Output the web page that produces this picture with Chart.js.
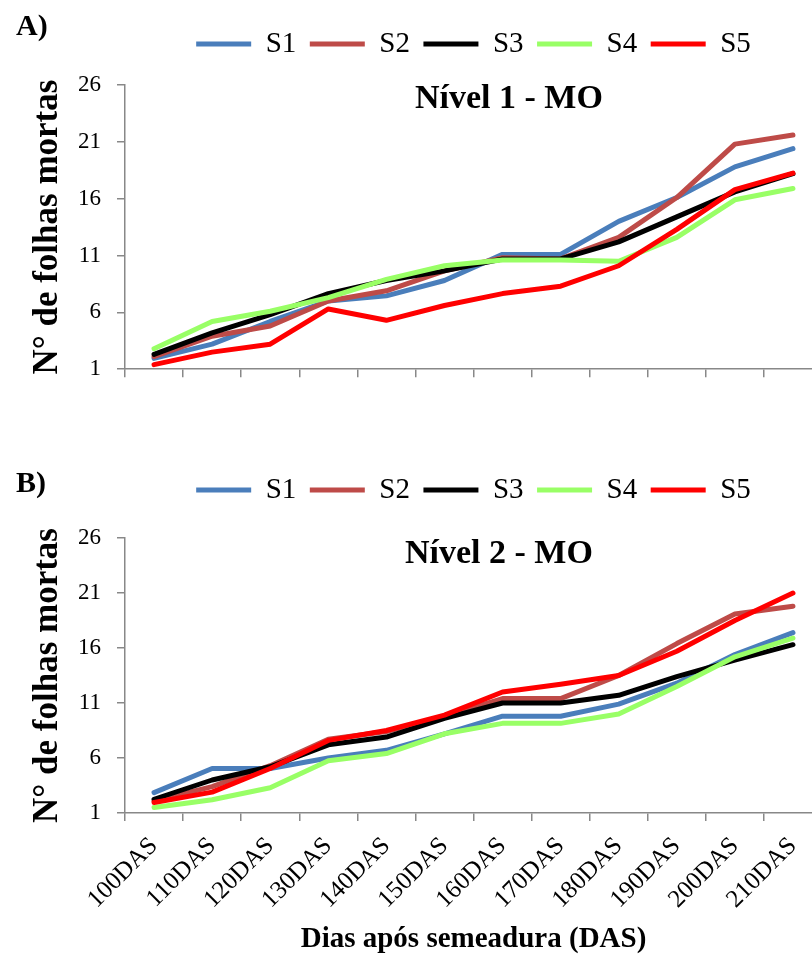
<!DOCTYPE html>
<html lang="pt">
<head>
  <meta charset="UTF-8" />
  <title>Folhas mortas - Nível 1 e 2 MO</title>
  <script src="https://cdn.jsdelivr.net/npm/chart.js"></script>
  <style>
    html, body {
      margin: 0;
      padding: 0;
      width: 812px;
      height: 957px;
      overflow: hidden;
      background: #fff;
      font-family: "Liberation Serif", "Times New Roman", serif;
    }
    .panel {
      position: absolute;
      left: 0;
      width: 822px;
    }
    .tag {
      position: absolute;
      left: 16px;
      font-weight: bold;
      font-size: 30px;
      line-height: 30px;
    }
    .ptitle {
      position: absolute;
      font-weight: bold;
      font-size: 34px;
      line-height: 34px;
      white-space: nowrap;
    }
  </style>
</head>
<body>

<div class="panel" style="top:0;height:399px"><canvas id="chartA"></canvas></div>
<div class="panel" style="top:446px;height:511px"><canvas id="chartB"></canvas></div>

<div class="tag" style="top:10px">A)</div>
<div class="tag" style="top:467px">B)</div>
<div class="ptitle" style="left:415px;top:80px">Nível 1 - MO</div>
<div class="ptitle" style="left:405px;top:535px">Nível 2 - MO</div>

<script>
const labels = ["100DAS", "110DAS", "120DAS", "130DAS", "140DAS", "150DAS",
                "160DAS", "170DAS", "180DAS", "190DAS", "200DAS", "210DAS"];
const seriesNames = ["S1", "S2", "S3", "S4", "S5"];
const seriesColors = ["#4A7EBB", "#BE4B48", "#000000", "#99FF66", "#FF0000"];

// Nível 1 - MO
const s1A = [1.95, 3.2, 5.2, 7.0, 7.45, 8.8, 11.1, 11.1, 14.0, 16.1, 18.8, 20.4];
const s2A = [2.1, 3.9, 4.8, 7.0, 7.9, 9.65, 10.8, 10.7, 12.6, 16.1, 20.8, 21.6];
const s3A = [2.3, 4.2, 5.8, 7.65, 8.8, 9.65, 10.7, 10.7, 12.2, 14.4, 16.6, 18.2];
const s4A = [2.8, 5.2, 6.1, 7.3, 8.9, 10.1, 10.6, 10.6, 10.5, 12.6, 15.9, 16.9];
const s5A = [1.4, 2.5, 3.2, 6.3, 5.3, 6.6, 7.65, 8.3, 10.1, 13.3, 16.8, 18.25];

// Nível 2 - MO
const s1B = [2.85, 5.05, 5.05, 6.0, 6.7, 8.2, 9.8, 9.8, 10.9, 12.8, 15.4, 17.4];
const s2B = [2.1, 3.4, 5.3, 7.7, 8.4, 9.8, 11.4, 11.4, 13.5, 16.4, 19.1, 19.8];
const s3B = [2.25, 4.0, 5.2, 7.2, 7.9, 9.6, 11.0, 11.0, 11.7, 13.4, 14.9, 16.3];
const s4B = [1.5, 2.2, 3.3, 5.75, 6.4, 8.2, 9.15, 9.15, 10.0, 12.5, 15.2, 16.9];
const s5B = [1.95, 2.9, 5.05, 7.6, 8.5, 9.9, 12.0, 12.7, 13.5, 15.7, 18.5, 21.0];

const yMin = 1, yMax = 26, yStep = 5;
const yTitle = "N° de folhas mortas";
const xTitle = "Dias após semeadura (DAS)";

Chart.defaults.font.family = '"Liberation Serif", "Times New Roman", serif';
Chart.defaults.color = "#000";

const axisGray = "#888888";

function buildDatasets(series) {
  return series.map((data, i) => ({
    label: seriesNames[i],
    data: data,
    borderColor: seriesColors[i],
    backgroundColor: seriesColors[i],
    borderWidth: 5,
    borderCapStyle: "round",
    borderJoinStyle: "round",
    pointRadius: 0,
    tension: 0,
    fill: false,
    order: series.length - i   // later series drawn on top, like the original
  }));
}

function makeChart(id, series, spacer, xHeight, showX) {
  const ctx = document.getElementById(id).getContext("2d");
  return new Chart(ctx, {
    type: "line",
    data: { labels: labels, datasets: buildDatasets(series) },
    options: {
      responsive: true,
      maintainAspectRatio: false,
      animation: false,
      layout: { padding: { top: 16, left: 0, right: 0, bottom: 0 } },
      plugins: {
        tooltip: { enabled: false },
        legend: {
          position: "top",
          fullSize: false,
          labels: {
            usePointStyle: true,
            pointStyle: "line",
            pointStyleWidth: 55,
            padding: 13.5,
            color: "#000",
            font: { size: 29 },
            sort: (a, b) => a.datasetIndex - b.datasetIndex
          }
        },
        // empty spacer between legend and plot area
        subtitle: {
          display: true,
          text: "",
          weight: 1,
          font: { size: 1, lineHeight: 1 },
          padding: { top: 0, bottom: spacer - 1 }
        }
      },
      scales: {
        x: {
          offset: true,
          grid: {
            offset: true,
            drawOnChartArea: false,
            drawTicks: true,
            tickLength: 8,
            color: axisGray,
            lineWidth: 1.5
          },
          border: { color: axisGray, width: 1.5 },
          ticks: {
            display: showX,
            autoSkip: false,
            minRotation: 45,
            maxRotation: 45,
            padding: 13,
            font: { size: 25, lineHeight: 0.9 },
            color: "#000"
          },
          title: {
            display: showX,
            text: xTitle,
            font: { size: 29, weight: "bold" },
            color: "#000",
            padding: { top: 0, bottom: 0 }
          },
          afterFit: s => { s.height = xHeight; }
        },
        y: {
          min: yMin,
          max: yMax,
          grid: {
            drawOnChartArea: false,
            drawTicks: true,
            tickLength: 8,
            color: axisGray,
            lineWidth: 1.5
          },
          border: { color: axisGray, width: 1.5 },
          ticks: {
            stepSize: yStep,
            padding: 16,
            font: { size: 23 },
            color: "#000"
          },
          title: {
            display: true,
            text: yTitle,
            font: { size: 35, weight: "bold" },
            color: "#000",
            padding: { top: 27, bottom: 0 }
          },
          afterFit: s => { s.width = 125; }
        }
      }
    }
  });
}

makeChart("chartA", [s1A, s2A, s3A, s4A, s5A], 16.5, 17, false);
makeChart("chartB", [s1B, s2B, s3B, s4B, s5B], 23.5, 144, true);
</script>

</body>
</html>
